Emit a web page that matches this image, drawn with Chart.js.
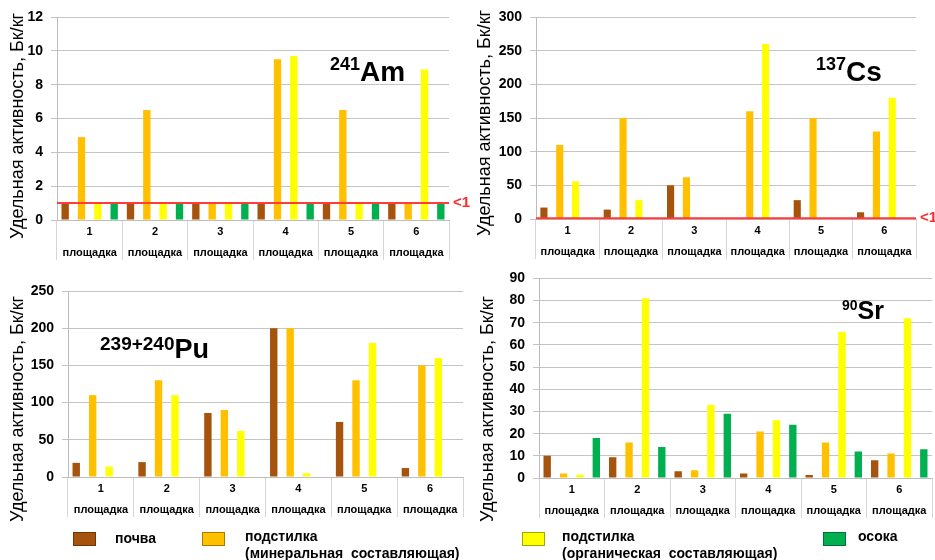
<!DOCTYPE html>
<html>
<head>
<meta charset="utf-8">
<script src="https://cdn.jsdelivr.net/npm/chart.js@4.4.1/dist/chart.umd.min.js"></script>
<style>
  html, body { margin: 0; padding: 0; background: #fff; }
  #wrap { position: relative; width: 935px; height: 560px; overflow: hidden; font-family: "Liberation Sans", Arial, sans-serif; color: #000; }
  canvas { position: absolute; }
  .ytitle { position: absolute; width: 260px; height: 20px; line-height: 20px; font-size: 18px; text-align: center; white-space: nowrap; transform: translate(-50%, -50%) rotate(-90deg); }
  .iso { position: absolute; font-weight: bold; line-height: 1; white-space: nowrap; }
  .lg-box { position: absolute; width: 21px; height: 12px; border: 1px solid rgba(0,0,0,0.35); }
  .lg-text { position: absolute; font-size: 14px; font-weight: bold; line-height: 17px; white-space: nowrap; }
</style>
</head>
<body>
<div id="wrap">
  <canvas id="am" width="470" height="270" style="left:0;top:0"></canvas>
  <canvas id="cs" width="465" height="270" style="left:470px;top:0"></canvas>
  <canvas id="pu" width="470" height="258" style="left:0;top:262px"></canvas>
  <canvas id="sr" width="465" height="258" style="left:470px;top:262px"></canvas>

  <div class="ytitle" style="left:17px;top:126px">Удельная активность, Бк/кг</div>
  <div class="ytitle" style="left:484px;top:123px">Удельная активность, Бк/кг</div>
  <div class="ytitle" style="left:17px;top:409px">Удельная активность, Бк/кг</div>
  <div class="ytitle" style="left:487px;top:409px">Удельная активность, Бк/кг</div>

  <div class="iso" style="left:330px;top:55px;font-size:28px"><span style="font-size:18px;vertical-align:11px">241</span>Am</div>
  <div class="iso" style="left:816px;top:55px;font-size:28px"><span style="font-size:18px;vertical-align:11px">137</span>Cs</div>
  <div class="iso" style="left:100px;top:334px;font-size:27px"><span style="font-size:19px;vertical-align:8px">239+240</span>Pu</div>
  <div class="iso" style="left:842px;top:298px;font-size:25px"><span style="font-size:14px;vertical-align:9px">90</span>Sr</div>

  <div class="lg-box" style="left:73px;top:532px;background:#a5530d"></div>
  <div class="lg-text" style="left:115px;top:530px">почва</div>
  <div class="lg-box" style="left:202px;top:532px;background:#ffc000"></div>
  <div class="lg-text" style="left:245px;top:528px">подстилка<br>(минеральная&nbsp; составляющая)</div>
  <div class="lg-box" style="left:522px;top:532px;background:#ffff00"></div>
  <div class="lg-text" style="left:562px;top:528px">подстилка<br>(органическая&nbsp; составляющая)</div>
  <div class="lg-box" style="left:823px;top:532px;background:#00b050"></div>
  <div class="lg-text" style="left:858px;top:528px">осока</div>
</div>

<script>
// sampling sites (two-line category labels)
const sites = [['1', 'площадка'], ['2', 'площадка'], ['3', 'площадка'],
               ['4', 'площадка'], ['5', 'площадка'], ['6', 'площадка']];

const seriesNames = ['почва', 'подстилка (минеральная составляющая)',
                     'подстилка (органическая составляющая)', 'осока'];
const seriesColors = ['#a5530d', '#ffc000', '#ffff00', '#00b050'];

// detection limit, values below it are plotted at the limit
const detectionLimit = 1;

// 241Am, Бк/кг
const amSoil      = [1, 1, 1, 1, 1, 1];
const amLitterMin = [4.9, 6.5, 1, 9.5, 6.5, 1];
const amLitterOrg = [1, 1, 1, 9.7, 1, 8.9];
const amSedge     = [1, 1, 1, 1, 1, 1];

// 137Cs
const csSoil      = [17, 14, 50, 1, 28, 10];
const csLitterMin = [110, 150, 62, 160, 150, 130];
const csLitterOrg = [56, 28, 1, 260, 1, 180];
const csSedge     = [1, 1, 1, 1, 1, 1];

// 239+240Pu (no sedge samples)
const puSoil      = [19, 20, 86, 200, 74, 12];
const puLitterMin = [110, 130, 90, 200, 130, 150];
const puLitterOrg = [14, 110, 62, 5, 180, 160];
const puSedge     = [null, null, null, null, null, null];

// 90Sr
const srSoil      = [10, 9.3, 3, 2, 1.3, 8];
const srLitterMin = [2, 16, 3.5, 21, 16, 11];
const srLitterOrg = [1.5, 81, 33, 26, 66, 72];
const srSedge     = [18, 14, 29, 24, 12, 13];

Chart.defaults.font.family = '"Liberation Sans", Arial, sans-serif';
Chart.defaults.color = '#000';

// red line for the detection limit with its label past the right edge
const limitLine = {
  id: 'limitLine',
  afterDatasetsDraw(chart) {
    const {ctx, chartArea, scales: {y}} = chart;
    const yy = y.getPixelForValue(detectionLimit);
    ctx.save();
    ctx.strokeStyle = '#ff3b3b';
    ctx.lineWidth = 2;
    ctx.beginPath();
    ctx.moveTo(chartArea.left, yy);
    ctx.lineTo(chartArea.right, yy);
    ctx.stroke();
    ctx.fillStyle = '#ff2a2a';
    ctx.font = 'bold 15px "Liberation Sans", Arial, sans-serif';
    ctx.textBaseline = 'middle';
    ctx.fillText('<' + detectionLimit, chartArea.right + 4, yy);
    ctx.restore();
  }
};

function makeChart(id, series, yMax, yStep, box, withLimit) {
  const datasets = series.map((vals, i) => ({
    label: seriesNames[i],
    data: vals,
    backgroundColor: seriesColors[i],
    categoryPercentage: 1.0,
    barPercentage: 0.45
  }));
  return new Chart(document.getElementById(id), {
    type: 'bar',
    data: { labels: sites, datasets: datasets },
    plugins: withLimit ? [limitLine] : [],
    options: {
      responsive: false,
      animation: false,
      layout: { padding: { top: box.top, right: box.right, left: 0, bottom: 0 } },
      plugins: { legend: { display: false }, tooltip: { enabled: false } },
      scales: {
        x: {
          afterFit: s => { s.height = box.xh; },
          grid: { offset: true, drawOnChartArea: false, tickLength: 40, color: '#d6d6d6' },
          border: { color: '#bdbdbd' },
          ticks: { autoSkip: false, maxRotation: 0, padding: -38,
                   font: { size: 11, weight: 'bold', lineHeight: 1.9 } }
        },
        y: {
          min: 0,
          max: yMax,
          afterFit: s => { s.width = box.yw; },
          grid: { color: '#c4c4c4', tickLength: 6 },
          border: { color: '#bdbdbd' },
          ticks: { stepSize: yStep, padding: 8, font: { size: 14, weight: 'bold' } }
        }
      }
    }
  });
}

makeChart('am', [amSoil, amLitterMin, amLitterOrg, amSedge], 12, 2,
  { top: 17, right: 21, yw: 57, xh: 50 }, true);
makeChart('cs', [csSoil, csLitterMin, csLitterOrg, csSedge], 300, 50,
  { top: 17, right: 19, yw: 66, xh: 51 }, true);
makeChart('pu', [puSoil, puLitterMin, puLitterOrg, puSedge], 250, 50,
  { top: 29, right: 7, yw: 68, xh: 43 }, false);
makeChart('sr', [srSoil, srLitterMin, srLitterOrg, srSedge], 90, 10,
  { top: 14, right: 3, yw: 69, xh: 42 }, false);
</script>
</body>
</html>
